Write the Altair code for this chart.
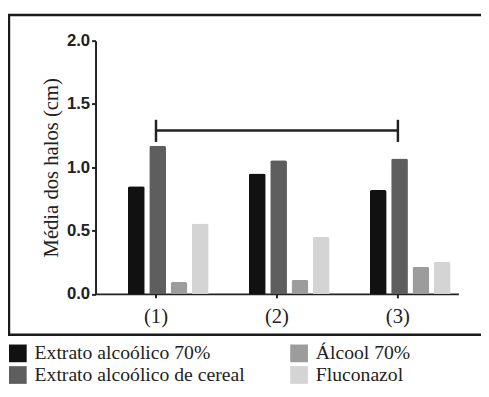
import altair as alt
import pandas as pd

categories = ["(1)", "(2)", "(3)"]
series_order = ["Extrato alcoólico 70%", "Extrato alcoólico de cereal", "Álcool 70%", "Fluconazol"]
series_colors = ["#111111", "#5e5e5e", "#9c9c9c", "#d4d4d4"]
extrato_70 = [0.85, 0.95, 0.82]
extrato_cereal = [1.17, 1.055, 1.07]
alcool_70 = [0.093, 0.11, 0.213]
fluconazol = [0.555, 0.45, 0.254]
bracket_from = ["(1)"]
bracket_to = ["(3)"]
bracket_level = [1.29]
cap_low = [1.20]
cap_high = [1.375]

rows = []
for name, vals in zip(series_order, [extrato_70, extrato_cereal, alcool_70, fluconazol]):
    for c, v in zip(categories, vals):
        rows.append({"grupo": c, "serie": name, "valor": v})
df = pd.DataFrame(rows)

xscale = alt.Scale(domain=categories, paddingInner=0, paddingOuter=0)
yscale = alt.Scale(domain=[0, 2])

bars = alt.Chart(df).mark_bar(cornerRadiusTopLeft=2, cornerRadiusTopRight=2).encode(
    x=alt.X("grupo:N", scale=xscale, sort=categories,
            axis=alt.Axis(title=None, labelAngle=0, labelFont="Liberation Serif",
                          labelFontSize=21, labelColor="#222222", labelPadding=8,
                          tickSize=4, tickWidth=2, tickColor="#222222",
                          domainWidth=2, domainColor="#222222")),
    y=alt.Y("valor:Q", scale=yscale,
            axis=alt.Axis(title="Média dos halos (cm)", values=[0, 0.5, 1, 1.5, 2], format=".1f",
                          grid=False, labelFont="Liberation Sans", labelFontWeight="bold",
                          labelFontSize=17, labelColor="#222222", labelPadding=2,
                          tickSize=4, tickWidth=2, tickColor="#222222",
                          domainWidth=2, domainColor="#222222",
                          titleFont="Liberation Serif", titleFontSize=21,
                          titleFontWeight="normal", titleColor="#222222", titlePadding=5)),
    xOffset=alt.XOffset("serie:N", sort=series_order,
                        scale=alt.Scale(domain=series_order, range=[33, 115], paddingInner=0.215, paddingOuter=0)),
    color=alt.Color("serie:N", scale=alt.Scale(domain=series_order, range=series_colors),
                    legend=alt.Legend(title=None, orient="none", legendX=-89, legendY=308,
                                      columns=2, symbolType="square", symbolSize=324,
                                      symbolStrokeWidth=0, labelFont="Liberation Serif",
                                      labelFontSize=20, labelColor="#222222", labelOffset=7,
                                      columnPadding=45, rowPadding=2, labelLimit=400)),
)

bdf = pd.DataFrame({"a": bracket_from, "b": bracket_to, "y": bracket_level})
bracket = alt.Chart(bdf).mark_rule(color="#222222", strokeWidth=2.5).encode(
    x=alt.X("a:N", scale=xscale), x2="b:N", y=alt.Y("y:Q", scale=yscale))

cdf = pd.DataFrame({"g": bracket_from + bracket_to, "lo": cap_low * 2, "hi": cap_high * 2})
caps = alt.Chart(cdf).mark_rule(color="#222222", strokeWidth=2.5).encode(
    x=alt.X("g:N", scale=xscale), y=alt.Y("lo:Q", scale=yscale), y2="hi:Q")

frame_df = pd.DataFrame({"k": [0]})
top = alt.Chart(frame_df).mark_rule(color="#1a1a1a", strokeWidth=2.5).encode(
    x=alt.value(-89), x2=alt.value(392), y=alt.value(-26))
bottom = alt.Chart(frame_df).mark_rule(color="#1a1a1a", strokeWidth=2.5).encode(
    x=alt.value(-89), x2=alt.value(392), y=alt.value(299))
left = alt.Chart(frame_df).mark_rule(color="#1a1a1a", strokeWidth=2.5).encode(
    x=alt.value(-88), y=alt.value(-27), y2=alt.value(300))

chart = alt.layer(bars, bracket, caps, top, bottom, left).properties(
    width=369, height=257.5,
    autosize=alt.AutoSizeParams(type="none"),
    padding={"left": 89, "top": 30, "right": 23, "bottom": 92.5},
).configure_view(stroke="transparent")

chart.save("out.html", embed_options={"renderer": "svg", "actions": False})
